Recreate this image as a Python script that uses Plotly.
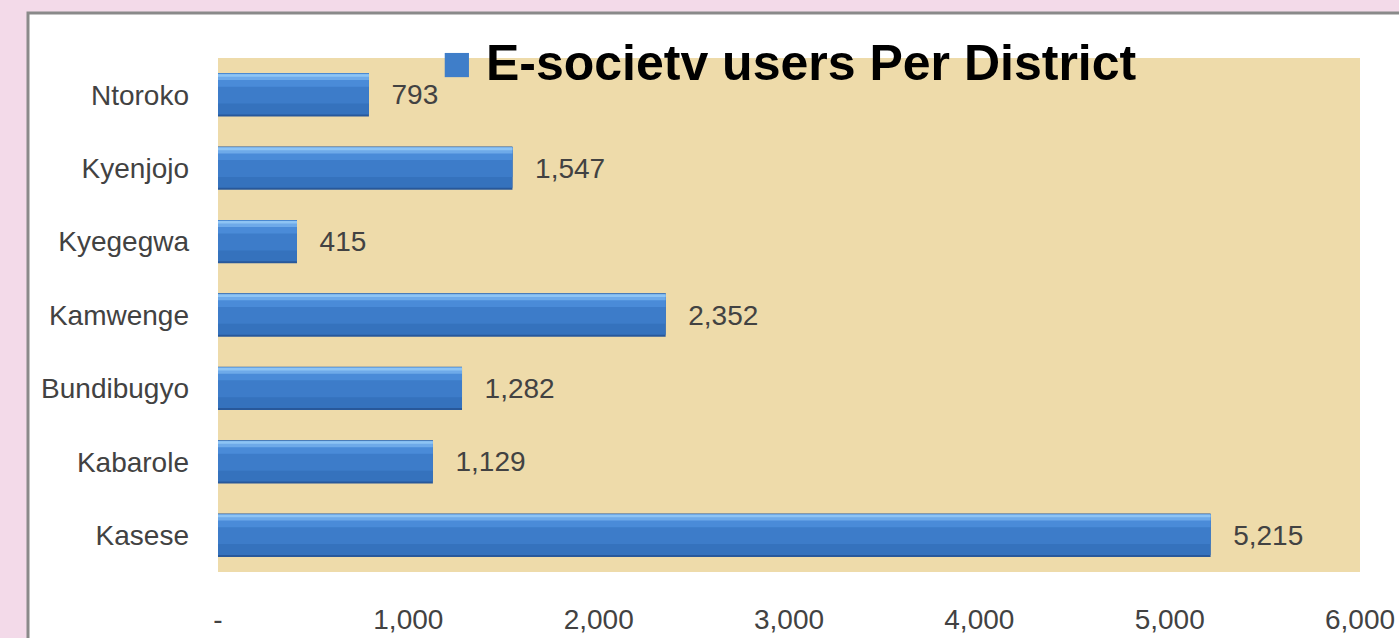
import plotly.graph_objects as go

districts = ["Kasese", "Kabarole", "Bundibugyo", "Kamwenge", "Kyegegwa", "Kyenjojo", "Ntoroko"]
users = [5215, 1129, 1282, 2352, 415, 1547, 793]
series_name = "E-societv users Per District"
x_tickvals = [0, 1000, 2000, 3000, 4000, 5000, 6000]
x_ticktext = ["-", "1,000", "2,000", "3,000", "4,000", "5,000", "6,000"]

FONT = "Liberation Sans, Arial, sans-serif"
GREY = "#424242"
PINK = "#f3dae9"

W, H = 1399, 638
ML, MR, MT, MB = 218, 39, 58, 66
pw, ph = W - ML - MR, H - MT - MB

def px_to_paper_x(px):
    return (px - ML) / pw

def px_to_paper_y(py):
    return 1 - (py - MT) / ph

fig = go.Figure()

# layered bars to imitate the cylinder shading (bottom dark edge -> top highlight)
layers = [
    dict(offset=-0.295, width=0.590, color="#28589a"),
    dict(offset=-0.268, width=0.556, color="#3572bd"),
    dict(offset=-0.120, width=0.408, color="#3d7cc9"),
    dict(offset=0.110, width=0.178, color="#4a8bd8"),
    dict(offset=0.200, width=0.085, color="#6eaae9"),
    dict(offset=0.245, width=0.035, color="#8ec4f4"),
]
for i, L in enumerate(layers):
    fig.add_trace(go.Bar(
        y=districts, x=users, orientation="h",
        name=series_name,
        offset=L["offset"], width=L["width"],
        marker=dict(color=L["color"], line=dict(width=0)),
        texttemplate="\u2002\u2009%{x:,}" if i == 0 else None,
        textposition="outside" if i == 0 else "none",
        constraintext="none",
        cliponaxis=False,
        textfont=dict(family=FONT, size=28, color=GREY),
        showlegend=False,
        hoverinfo="skip" if i else "x+y",
    ))

fig.update_layout(
    width=W, height=H,
    margin=dict(l=ML, r=MR, t=MT, b=MB, autoexpand=False),
    paper_bgcolor=PINK,
    plot_bgcolor="rgba(0,0,0,0)",
    barmode="overlay",
    title=dict(
        text="<span style='color:#3f7ec9'>■</span> " + series_name,
        font=dict(family=FONT, size=50, color="#000000", weight="bold"),
        x=789 / W, xanchor="center",
        y=1 - 62 / H, yanchor="middle",
    ),
    shapes=[
        dict(type="rect", xref="paper", yref="paper", layer="below",
             x0=px_to_paper_x(28), x1=1.2, y0=-0.3, y1=px_to_paper_y(13),
             fillcolor="#ffffff", line=dict(color="#8a8a8a", width=3)),
        dict(type="rect", xref="paper", yref="paper", layer="below",
             x0=0, x1=1, y0=0, y1=1,
             fillcolor="#eedbaa", line=dict(width=0)),
    ],
    xaxis=dict(
        range=[0, 6000], tickvals=x_tickvals, ticktext=x_ticktext,
        showgrid=False, zeroline=False, showline=False, ticks="",
        tickfont=dict(family=FONT, size=28, color=GREY),
        ticklabelstandoff=28,
    ),
    yaxis=dict(
        categoryorder="array", categoryarray=districts,
        range=[-0.5, 6.5],
        showgrid=False, zeroline=False, showline=False, ticks="",
        tickfont=dict(family=FONT, size=28, color=GREY),
        ticklabelstandoff=28,
    ),
)

fig.write_html(
    "out.html",
    config={"displayModeBar": False},
    post_script="document.body.style.margin='0';document.body.style.overflow='hidden';"
                "document.body.style.background='" + PINK + "';",
)
